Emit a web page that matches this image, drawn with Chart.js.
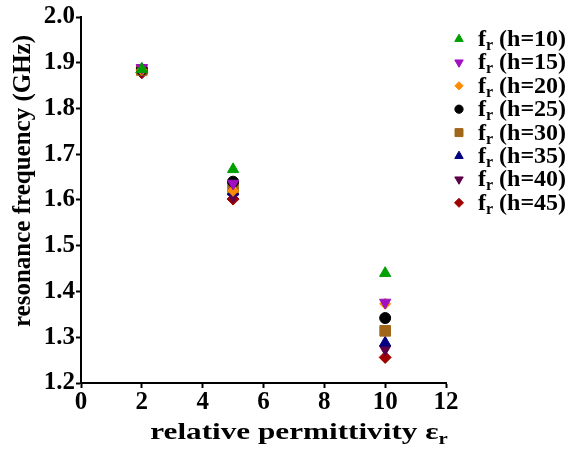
<!DOCTYPE html>
<html>
<head>
<meta charset="utf-8">
<script src="https://cdn.jsdelivr.net/npm/chart.js@4"></script>
<style>
  html, body { margin: 0; padding: 0; background: #fff; }
  #wrap { width: 568px; height: 453px; }
</style>
</head>
<body>
<div id="wrap"><canvas id="chart-1"></canvas></div>
<script>
const permittivity = [2, 5, 10];
const heights = [10, 15, 20, 25, 30, 35, 40, 45];
const fr10 = [1.886, 1.667, 1.440];
const fr15 = [1.889, 1.636, 1.376];
const fr20 = [1.884, 1.620, 1.373];
const fr25 = [1.885, 1.640, 1.342];
const fr30 = [1.884, 1.628, 1.314];
const fr35 = [1.886, 1.618, 1.288];
const fr40 = [1.882, 1.608, 1.274];
const fr45 = [1.878, 1.602, 1.256];
const xTicks = [0, 2, 4, 6, 8, 10, 12];
const yTicks = [1.2, 1.3, 1.4, 1.5, 1.6, 1.7, 1.8, 1.9, 2.0];

const series = [fr10, fr15, fr20, fr25, fr30, fr35, fr40, fr45];
const colors = ["#00a000", "#a010c0", "#ff8c00", "#000000", "#a0661a", "#000080", "#5c0048", "#a00000"];
const styles = ["triangle", "triangle", "rectRot", "circle", "rect", "triangle", "triangle", "rectRot"];
const rotations = [0, 180, 0, 0, 0, 0, 180, 0];
const radii = [6.5, 6.5, 5.5, 5.5, 7.5, 6.5, 6.5, 6];

const FONT = "'Liberation Serif', 'Times New Roman', serif";

const datasets = series.map((vals, i) => ({
  label: "fr (h=" + heights[i] + ")",
  data: vals.map((v, j) => ({ x: permittivity[j], y: v })),
  backgroundColor: colors[i],
  borderColor: colors[i],
  pointStyle: styles[i],
  rotation: rotations[i],
  pointRadius: radii[i],
  pointBorderWidth: 1,
  showLine: false,
}));

// titles and legend need a subscript r, drawn by hand
const extras = {
  id: "extras",
  afterDraw(chart) {
    const ctx = chart.ctx;
    const big = "bold 24px " + FONT;
    const small = "bold 16px " + FONT;
    ctx.save();
    ctx.fillStyle = "#000";
    ctx.textBaseline = "alphabetic";

    // x title (a bit wider than normal, like the original)
    ctx.font = big;
    const t1 = "relative permittivity \u03b5";
    const w1 = ctx.measureText(t1).width;
    ctx.font = small;
    const w2 = ctx.measureText("r").width;
    const sx = 1.3;
    const cx = 299;
    ctx.save();
    ctx.translate(cx - (w1 + w2) * sx / 2, 439);
    ctx.scale(sx, 1);
    ctx.font = big;
    ctx.fillText(t1, 0, 0);
    ctx.font = small;
    ctx.fillText("r", w1, 5);
    ctx.restore();

    // y title
    ctx.save();
    ctx.translate(24, 181);
    ctx.rotate(-Math.PI / 2);
    ctx.font = "bold 25px " + FONT;
    ctx.textAlign = "center";
    ctx.textBaseline = "middle";
    ctx.fillText("resonance frequency (GHz)", 0, 0);
    ctx.restore();

    // legend
    chart.data.datasets.forEach((ds, i) => {
      const y = 39 + i * 23.4;
      ctx.fillStyle = ds.backgroundColor;
      ctx.strokeStyle = ds.borderColor;
      ctx.lineWidth = 1;
      Chart.helpers.drawPoint(ctx, {
        pointStyle: ds.pointStyle,
        rotation: ds.rotation,
        radius: ds.pointRadius * 0.75,
        borderWidth: 1,
      }, 459, y);
      ctx.fillStyle = "#000";
      ctx.font = big;
      ctx.fillText("f", 478, y + 7);
      const fw = ctx.measureText("f").width;
      ctx.font = small;
      ctx.fillText("r", 478 + fw, y + 11);
      const rw = ctx.measureText("r").width;
      ctx.font = big;
      ctx.fillText(" (h=" + heights[i] + ")", 478 + fw + rw, y + 7);
    });
    ctx.restore();
  },
};

const ctx1 = document.getElementById("chart-1");

const mychart = new Chart(ctx1, {
  type: "scatter",
  data: { datasets: datasets },
  options: {
    responsive: true,
    maintainAspectRatio: false,
    animation: false,
    layout: { padding: { top: 17, right: 122, left: 0, bottom: 0 } },
    plugins: {
      legend: { display: false },
      tooltip: { enabled: false },
    },
    scales: {
      x: {
        type: "linear",
        min: 0,
        max: 12,
        afterFit: (s) => { s.height = 70; },
        afterBuildTicks: (s) => { s.ticks = xTicks.map((v) => ({ value: v })); },
        grid: { drawOnChartArea: false, color: "#000", tickLength: 5, tickWidth: 2 },
        border: { display: true, color: "#000", width: 2 },
        ticks: { color: "#000", padding: 0, maxRotation: 0, font: { family: FONT, size: 25, weight: "bold" } },
      },
      y: {
        type: "linear",
        min: 1.2,
        max: 2.0,
        afterFit: (s) => { s.width = 81; },
        afterBuildTicks: (s) => { s.ticks = yTicks.map((v) => ({ value: v })); },
        grid: { drawOnChartArea: false, color: "#000", tickLength: 5, tickWidth: 2 },
        border: { display: true, color: "#000", width: 2 },
        ticks: {
          color: "#000",
          padding: 1,
          font: { family: FONT, size: 25, weight: "bold" },
          callback: (v) => v.toFixed(1),
        },
      },
    },
  },
  plugins: [extras],
});
</script>
</body>
</html>
